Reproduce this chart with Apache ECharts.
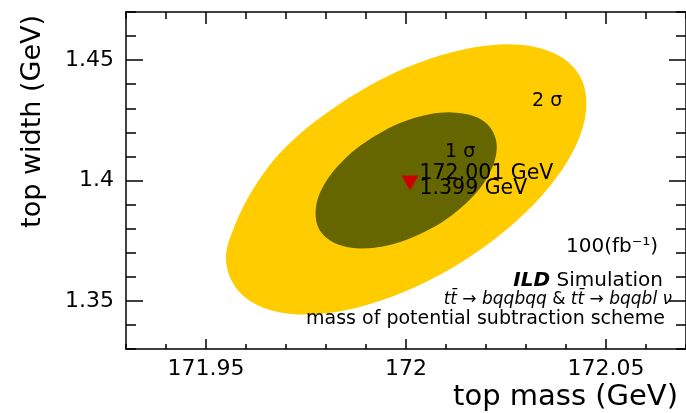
<!DOCTYPE html>
<html>
<head>
<meta charset="utf-8">
<script src="https://cdn.jsdelivr.net/npm/echarts@6/dist/echarts.min.js"></script>
<style>
  html, body { margin: 0; padding: 0; background: #ffffff; }
  #chart { width: 686px; height: 413px; }
</style>
</head>
<body>
<div id="chart"></div>
<script>
// Axis ticks (top mass in GeV, top width in GeV)
const massTicks = [171.95, 172.0, 172.05];
const massTickLabels = ['171.95', '172', '172.05'];
const massMinorTicks = [171.93, 171.94, 171.95, 171.96, 171.97, 171.98, 171.99, 172.0,
                        172.01, 172.02, 172.03, 172.04, 172.05, 172.06, 172.07];
const widthTicks = [1.35, 1.4, 1.45];
const widthTickLabels = ['1.35', '1.4', '1.45'];
const widthMinorTicks = [1.33, 1.34, 1.35, 1.36, 1.37, 1.38, 1.39, 1.4,
                         1.41, 1.42, 1.43, 1.44, 1.45, 1.46, 1.47];
const massRange = [171.93, 172.07];
const widthRange = [1.33, 1.47];

// 2 sigma contour boundary
const outerMass = [172.0451, 172.0436, 172.0391, 172.0319, 172.0226, 172.0117, 172.0000, 171.9884,
                   171.9775, 171.9682, 171.9616, 171.9572, 171.9550, 171.9565, 171.9610, 171.9682,
                   171.9775, 171.9884, 172.0000, 172.0117, 172.0226, 172.0319, 172.0391, 172.0436];
const outerWidth = [1.4321, 1.4430, 1.4510, 1.4556, 1.4564, 1.4534, 1.4468, 1.4370,
                    1.4248, 1.4109, 1.3959, 1.3813, 1.3688, 1.3580, 1.3499, 1.3453,
                    1.3445, 1.3475, 1.3541, 1.3639, 1.3762, 1.3900, 1.4047, 1.4190];

// 1 sigma contour boundary
const innerMass = [172.0227, 172.0219, 172.0197, 172.0161, 172.0114, 172.0059, 172.0000, 171.9942,
                   171.9887, 171.9840, 171.9804, 171.9781, 171.9774, 171.9781, 171.9804, 171.9840,
                   171.9887, 171.9942, 172.0000, 172.0059, 172.0114, 172.0161, 172.0197, 172.0219];
const innerWidth = [1.4138, 1.4197, 1.4243, 1.4272, 1.4283, 1.4275, 1.4248, 1.4204,
                    1.4146, 1.4078, 1.4006, 1.3932, 1.3863, 1.3804, 1.3758, 1.3729,
                    1.3718, 1.3726, 1.3753, 1.3797, 1.3855, 1.3923, 1.3996, 1.4069];

// Fitted central value
const bestMass = 172.001;
const bestWidth = 1.399;

const FONT = 'DejaVu Sans';
const INK = '#000000';

function pickLabel(ticks, labels) {
  return function (v) {
    const i = ticks.findIndex(t => Math.abs(t - v) < 1e-6);
    return i >= 0 ? labels[i] : '';
  };
}

function frameAxis(extra) {
  return Object.assign({
    type: 'value',
    scale: true,
    axisLine: { show: false, lineStyle: { color: INK, width: 1.5 } },
    axisTick: { show: true, inside: true, lineStyle: { color: INK, width: 1.5 } },
    axisLabel: { show: false },
    splitLine: { show: false }
  }, extra);
}

function contourSeries(name, mass, width, color, z) {
  return {
    type: 'custom',
    name: name,
    xAxisIndex: 0,
    yAxisIndex: 0,
    clip: true,
    z: z,
    data: [[mass[0], width[0]]],
    renderItem: function (params, api) {
      const pts = mass.map((m, i) => api.coord([m, width[i]]));
      return {
        type: 'polygon',
        shape: { points: pts, smooth: 0.34 },
        style: { fill: color, stroke: null }
      };
    }
  };
}

const chart = echarts.init(document.getElementById('chart'), null, { renderer: 'canvas' });

chart.setOption({
  backgroundColor: '#ffffff',
  animation: false,
  grid: { left: 126, top: 12, width: 568, height: 337, containLabel: false },
  xAxis: [
    frameAxis({
      position: 'bottom', min: massRange[0], max: massRange[1],
      axisLine: { show: true, lineStyle: { color: INK, width: 1.5 } },
      axisTick: { show: true, inside: true, length: 10, customValues: massTicks,
                  lineStyle: { color: INK, width: 1.5 } },
      axisLabel: { show: true, customValues: massTicks, formatter: pickLabel(massTicks, massTickLabels),
                   fontFamily: FONT, fontSize: 22, color: INK, margin: 9 }
    }),
    frameAxis({ position: 'bottom', min: massRange[0], max: massRange[1],
      axisTick: { show: true, inside: true, length: 5, customValues: massMinorTicks,
                  lineStyle: { color: INK, width: 1.5 } } }),
    frameAxis({ position: 'top', min: massRange[0], max: massRange[1],
      axisLine: { show: true, lineStyle: { color: INK, width: 1.5 } },
      axisTick: { show: true, inside: true, length: 12, customValues: massTicks,
                  lineStyle: { color: INK, width: 1.5 } } }),
    frameAxis({ position: 'top', min: massRange[0], max: massRange[1],
      axisTick: { show: true, inside: true, length: 7, customValues: massMinorTicks,
                  lineStyle: { color: INK, width: 1.5 } } })
  ],
  yAxis: [
    frameAxis({
      position: 'left', min: widthRange[0], max: widthRange[1],
      axisLine: { show: true, lineStyle: { color: INK, width: 1.5 } },
      axisTick: { show: true, inside: true, length: 17, customValues: widthTicks,
                  lineStyle: { color: INK, width: 1.5 } },
      axisLabel: { show: true, customValues: widthTicks, formatter: pickLabel(widthTicks, widthTickLabels),
                   fontFamily: FONT, fontSize: 22, color: INK, margin: 12 }
    }),
    frameAxis({ position: 'left', min: widthRange[0], max: widthRange[1],
      axisTick: { show: true, inside: true, length: 10, customValues: widthMinorTicks,
                  lineStyle: { color: INK, width: 1.5 } } }),
    frameAxis({ position: 'right', min: widthRange[0], max: widthRange[1],
      axisLine: { show: true, lineStyle: { color: INK, width: 1.5 } },
      axisTick: { show: true, inside: true, length: 17, customValues: widthTicks,
                  lineStyle: { color: INK, width: 1.5 } } }),
    frameAxis({ position: 'right', min: widthRange[0], max: widthRange[1],
      axisTick: { show: true, inside: true, length: 10, customValues: widthMinorTicks,
                  lineStyle: { color: INK, width: 1.5 } } })
  ],
  series: [
    contourSeries('2 sigma', outerMass, outerWidth, '#ffcc00', 1),
    contourSeries('1 sigma', innerMass, innerWidth, '#666600', 2),
    {
      type: 'scatter',
      name: 'central value',
      xAxisIndex: 0,
      yAxisIndex: 0,
      z: 5,
      symbol: 'triangle',
      symbolRotate: 180,
      symbolSize: [17, 15],
      itemStyle: { color: '#cc0000', opacity: 1 },
      data: [[bestMass, bestWidth]],
      label: {
        show: true,
        position: 'right',
        distance: 1,
        offset: [0, -1.5],
        fontFamily: FONT,
        fontSize: 20.5,
        lineHeight: 15,
        color: INK,
        opacity: 1,
        formatter: p => p.value[0].toFixed(3) + ' GeV\n' + p.value[1].toFixed(3) + ' GeV'
      }
    }
  ],
  graphic: [
    { type: 'text', x: 445, y: 152, z: 10,
      style: { text: '1 σ', fontFamily: FONT, fontSize: 19, fill: INK,
               textAlign: 'left', textVerticalAlign: 'middle' } },
    { type: 'text', x: 532, y: 101, z: 10,
      style: { text: '2 σ', fontFamily: FONT, fontSize: 19, fill: INK,
               textAlign: 'left', textVerticalAlign: 'middle' } },
    { type: 'text', x: 566, y: 247, z: 10,
      style: { text: '100(fb⁻¹)', fontFamily: FONT, fontSize: 20, fill: INK,
               textAlign: 'left', textVerticalAlign: 'middle' } },
    { type: 'text', x: 663, y: 281, z: 10,
      style: { text: '{b|ILD} Simulation', fontFamily: FONT, fontSize: 20, fill: INK,
               textAlign: 'right', textVerticalAlign: 'middle',
               rich: { b: { fontFamily: FONT, fontSize: 20, fontWeight: 'bold', fontStyle: 'italic', fill: INK } } } },
    { type: 'text', x: 672, y: 300, z: 10,
      style: { text: '{i|tt̄ → bqqbqq} & {i|tt̄ → bqqbl ν}', fontFamily: FONT, fontSize: 17, fill: INK,
               textAlign: 'right', textVerticalAlign: 'middle',
               rich: { i: { fontFamily: FONT, fontSize: 17, fontStyle: 'italic', fill: INK } } } },
    { type: 'text', x: 665, y: 319, z: 10,
      style: { text: 'mass of potential subtraction scheme', fontFamily: FONT, fontSize: 19, fill: INK,
               textAlign: 'right', textVerticalAlign: 'middle' } },
    { type: 'text', x: 678, y: 397, z: 10,
      style: { text: 'top mass (GeV)', fontFamily: FONT, fontSize: 29, fill: INK,
               textAlign: 'right', textVerticalAlign: 'middle' } },
    { type: 'text', x: 33, y: 15, rotation: Math.PI / 2, z: 10,
      style: { text: 'top width (GeV)', fontFamily: FONT, fontSize: 27, fill: INK,
               textAlign: 'right', textVerticalAlign: 'middle' } }
  ]
});
</script>
</body>
</html>
